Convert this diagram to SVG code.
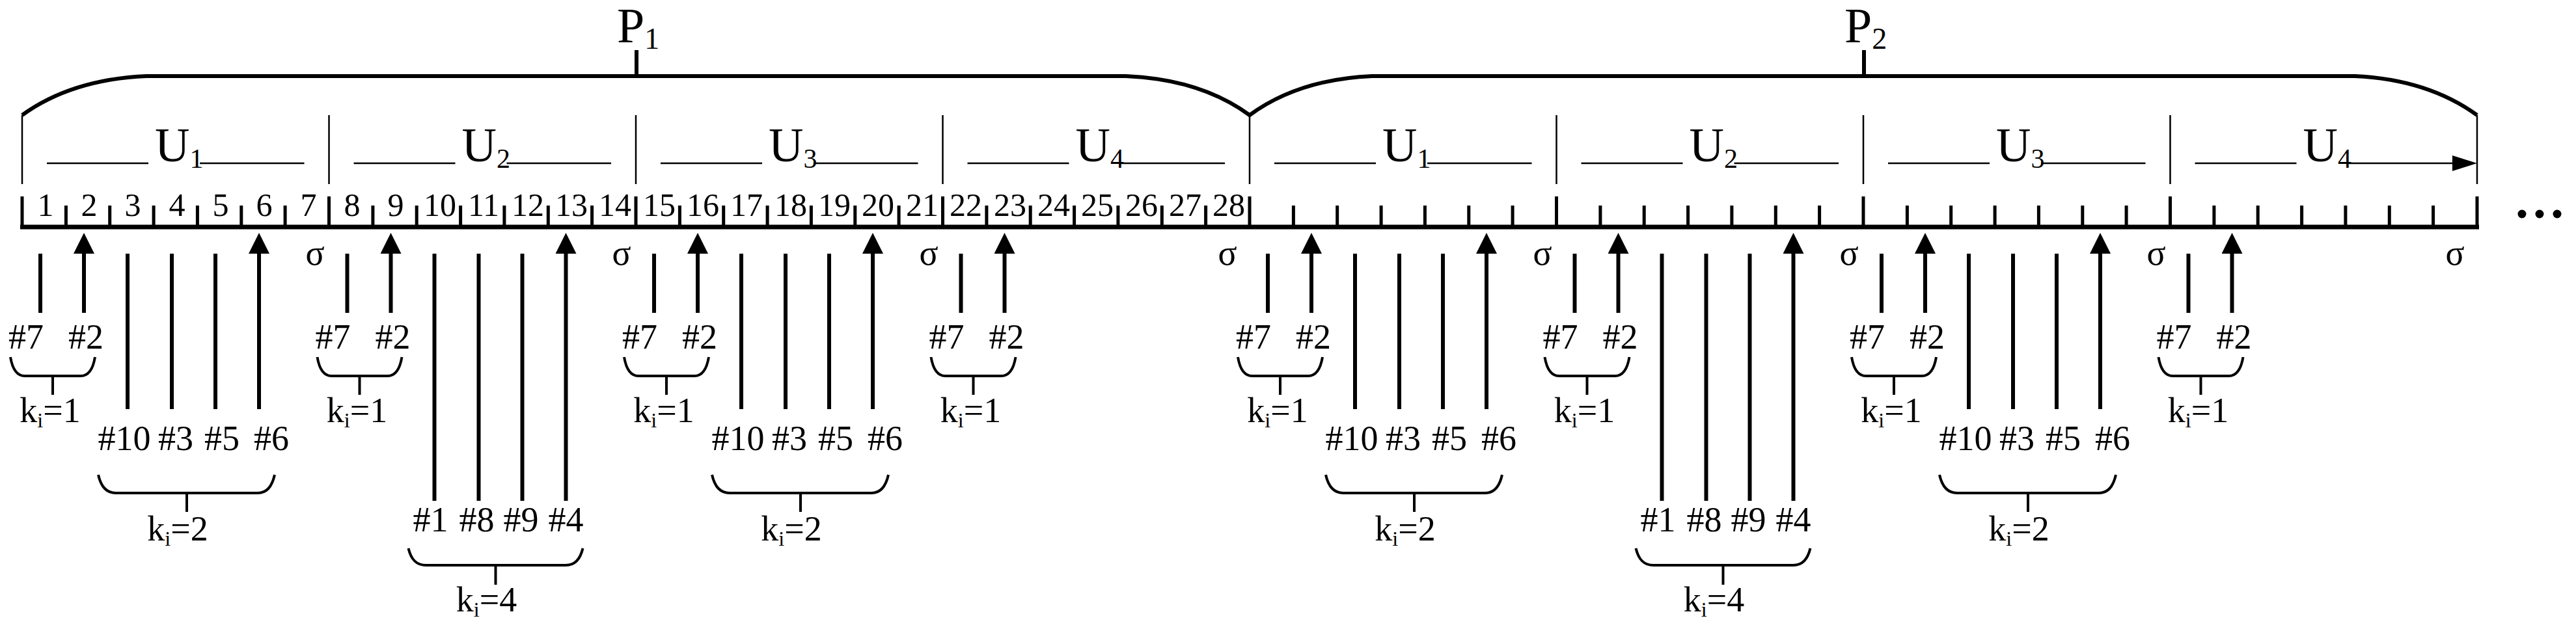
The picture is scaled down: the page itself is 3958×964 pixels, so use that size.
<svg xmlns="http://www.w3.org/2000/svg" width="3958" height="964" viewBox="0 0 3958 964">
<style>
text{font-family:"Liberation Serif","Times New Roman",serif;fill:#000}
.num{font-size:50px;text-anchor:middle}
.u{font-size:74px}
.p{font-size:76px}
.sig{font-size:54px;text-anchor:middle}
.lab{font-size:54px;text-anchor:middle}
.thick{stroke:#000;stroke-width:6;fill:none}
.thin{stroke:#000;stroke-width:2.5;fill:none}
.tick{stroke:#000;stroke-width:5;fill:none}
.sh{stroke:#000;stroke-width:6;fill:none;marker-end:url(#up)}
.br{stroke:#000;stroke-width:4;fill:none}
.dim{stroke:#000;stroke-width:2.5;fill:none;marker-end:url(#ha)}
</style>
<defs>
<marker id="up" viewBox="0 0 32 32" refX="0" refY="16" markerWidth="32" markerHeight="32" markerUnits="userSpaceOnUse" orient="auto"><path d="M0,0 L32,16 L0,32 z" fill="#000"/></marker>
<marker id="ha" viewBox="0 0 38 24" refX="0" refY="12" markerWidth="38" markerHeight="24" markerUnits="userSpaceOnUse" orient="auto"><path d="M0,0 L38,12 L0,24 z" fill="#000"/></marker>
<g id="k1">
<path class="sh" d="M62,481V390M129,481V390"/>
<text class="lab" x="40" y="536">#7</text><text class="lab" x="132" y="536">#2</text>
<path class="br" d="M16,549C19,567 26,578 38,578H124C136,578 143,567 146,549M81,578V607"/>
<text class="lab" x="77" y="649">k<tspan font-size="32" dy="8">i</tspan><tspan dy="-8">=1</tspan></text>
</g>
<g id="k2">
<path class="sh" d="M196,629V390M264,629V390M331,629V390M398,629V390"/>
<text class="lab" x="191" y="692">#10</text><text class="lab" x="270" y="692">#3</text><text class="lab" x="341" y="692">#5</text><text class="lab" x="417" y="692">#6</text>
<path class="br" d="M151,730C155,748 163,758 178,758H396C410,758 418,748 422,730M287,758V787"/>
<text class="lab" x="273" y="831">k<tspan font-size="32" dy="8">i</tspan><tspan dy="-8">=2</tspan></text>
</g>
<g id="k4">
<path class="sh" d="M196,770V390M264,770V390M331,770V390M398,770V390"/>
<text class="lab" x="190" y="817">#1</text><text class="lab" x="261" y="817">#8</text><text class="lab" x="329" y="817">#9</text><text class="lab" x="398" y="817">#4</text>
<path class="br" d="M156,843C160,860 168,869 183,869H398C412,869 420,860 424,843M290,869V899"/>
<text class="lab" x="276" y="940">k<tspan font-size="32" dy="8">i</tspan><tspan dy="-8">=4</tspan></text>
</g>
</defs>
<g id="connectors">
<path class="thick" d="M34,177Q110,122 225,117H1730Q1845,122 1920,177Q1995,122 2108,117H3618Q3730,122 3806,177"/>
<path class="thick" d="M978,117V77M2864,117V77"/>
<path class="thin" d="M34,177V283M505.5,177V283M977,177V283M1448.5,177V283M1920,177V283M2391.5,177V283M2863,177V283M3334.5,177V283M3806,177V283"/>
<path class="dim" d="M228,251H72M307,251H467.5M699.5,251H543.5M778.5,251H939M1171,251H1015M1250,251H1410.5M1642.5,251H1486.5M1721.5,251H1882M2114,251H1958M2193,251H2353.5M2585.5,251H2429.5M2664.5,251H2825M3057,251H2901M3136,251H3296.5M3528.5,251H3372.5M3607.5,251H3768"/>
<path d="M31,349H3809" stroke="#000" stroke-width="7"/>
<path class="tick" d="M34,302V352M505.5,302V352M977,302V352M1448.5,302V352M1920,302V352M2391.5,302V352M2863,302V352M3334.5,302V352M3806,302V352"/>
<path class="tick" d="M101.4,316V349M168.7,316V349M236.1,316V349M303.4,316V349M370.8,316V349M438.1,316V349M572.9,316V349M640.2,316V349M707.6,316V349M774.9,316V349M842.3,316V349M909.6,316V349M1044.4,316V349M1111.7,316V349M1179.1,316V349M1246.4,316V349M1313.8,316V349M1381.1,316V349M1515.9,316V349M1583.2,316V349M1650.6,316V349M1717.9,316V349M1785.3,316V349M1852.6,316V349M1987.4,316V349M2054.7,316V349M2122.1,316V349M2189.4,316V349M2256.8,316V349M2324.1,316V349M2458.9,316V349M2526.2,316V349M2593.6,316V349M2660.9,316V349M2728.3,316V349M2795.6,316V349M2930.4,316V349M2997.7,316V349M3065.1,316V349M3132.4,316V349M3199.8,316V349M3267.1,316V349M3401.9,316V349M3469.2,316V349M3536.6,316V349M3603.9,316V349M3671.3,316V349M3738.6,316V349"/>
</g>
<g id="P1"><text class="p" x="948" y="65">P<tspan font-size="46" dy="10">1</tspan></text></g>
<g id="P2"><text class="p" x="2834" y="65">P<tspan font-size="46" dy="10">2</tspan></text></g>
<g id="slots">
<text class="num" x="70" y="332">1</text><text class="num" x="137" y="332">2</text><text class="num" x="204" y="332">3</text><text class="num" x="272" y="332">4</text><text class="num" x="339" y="332">5</text><text class="num" x="406" y="332">6</text><text class="num" x="474" y="332">7</text>
<text class="num" x="541" y="332">8</text><text class="num" x="608" y="332">9</text><text class="num" x="676" y="332">10</text><text class="num" x="743" y="332">11</text><text class="num" x="811" y="332">12</text><text class="num" x="878" y="332">13</text><text class="num" x="945" y="332">14</text>
<text class="num" x="1013" y="332">15</text><text class="num" x="1080" y="332">16</text><text class="num" x="1147" y="332">17</text><text class="num" x="1215" y="332">18</text><text class="num" x="1282" y="332">19</text><text class="num" x="1349" y="332">20</text><text class="num" x="1417" y="332">21</text>
<text class="num" x="1484" y="332">22</text><text class="num" x="1552" y="332">23</text><text class="num" x="1619" y="332">24</text><text class="num" x="1686" y="332">25</text><text class="num" x="1754" y="332">26</text><text class="num" x="1821" y="332">27</text><text class="num" x="1888" y="332">28</text>
</g>
<g id="sigmas">
<text class="sig" x="484" y="407">σ</text><text class="sig" x="955" y="407">σ</text><text class="sig" x="1427" y="407">σ</text><text class="sig" x="1886" y="407">σ</text>
<text class="sig" x="2370" y="407">σ</text><text class="sig" x="2841" y="407">σ</text><text class="sig" x="3313" y="407">σ</text><text class="sig" x="3772" y="407">σ</text>
</g>
<g id="P1-U1"><text class="u" x="238" y="248">U<tspan font-size="42" dy="10">1</tspan></text><use href="#k1"/><use href="#k2"/></g>
<g id="P1-U2" transform="translate(471.5,0)"><text class="u" x="238" y="248">U<tspan font-size="42" dy="10">2</tspan></text><use href="#k1"/><use href="#k4"/></g>
<g id="P1-U3" transform="translate(943,0)"><text class="u" x="238" y="248">U<tspan font-size="42" dy="10">3</tspan></text><use href="#k1"/><use href="#k2"/></g>
<g id="P1-U4" transform="translate(1414.5,0)"><text class="u" x="238" y="248">U<tspan font-size="42" dy="10">4</tspan></text><use href="#k1"/></g>
<g id="P2-U1" transform="translate(1886,0)"><text class="u" x="238" y="248">U<tspan font-size="42" dy="10">1</tspan></text><use href="#k1"/><use href="#k2"/></g>
<g id="P2-U2" transform="translate(2357.5,0)"><text class="u" x="238" y="248">U<tspan font-size="42" dy="10">2</tspan></text><use href="#k1"/><use href="#k4"/></g>
<g id="P2-U3" transform="translate(2829,0)"><text class="u" x="238" y="248">U<tspan font-size="42" dy="10">3</tspan></text><use href="#k1"/><use href="#k2"/></g>
<g id="P2-U4" transform="translate(3300.5,0)"><text class="u" x="238" y="248">U<tspan font-size="42" dy="10">4</tspan></text><use href="#k1"/></g>
<g id="ellipsis"><circle cx="3875" cy="329" r="6.5"/><circle cx="3902" cy="329" r="6.5"/><circle cx="3929" cy="329" r="6.5"/></g>
</svg>
